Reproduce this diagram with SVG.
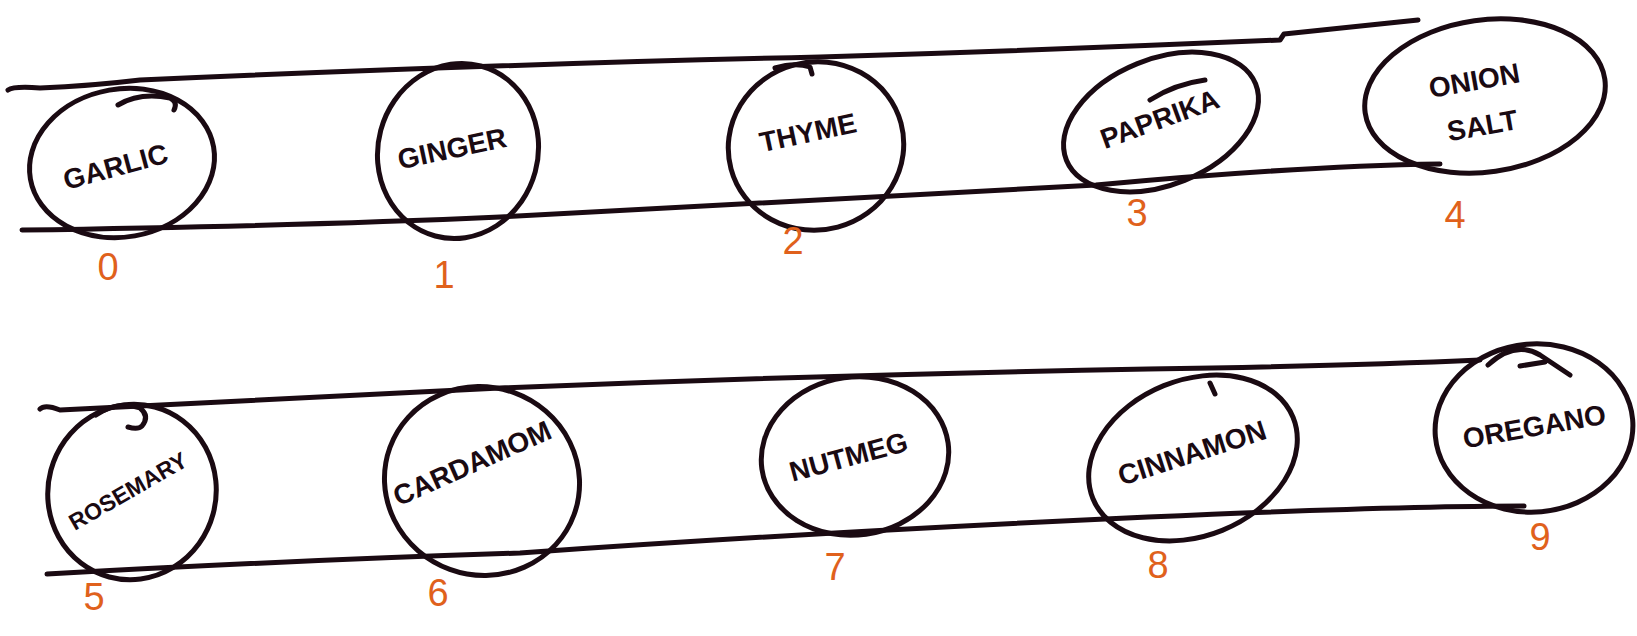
<svg xmlns="http://www.w3.org/2000/svg" width="1637" height="636" viewBox="0 0 1637 636">
<style>
.ln{fill:none;stroke:#1a0a12;stroke-width:5;stroke-linecap:round;stroke-linejoin:round}
.nd{fill:none;stroke:#1a0a12;stroke-width:5}
.lb{font-family:"Liberation Sans",Arial,sans-serif;font-weight:bold;font-size:28px;fill:#1a0a12;text-anchor:middle}
.sm{font-size:23px}
.num{font-family:"Liberation Sans",Arial,sans-serif;font-size:38px;fill:#e0611c;text-anchor:middle}
</style>
<rect width="1637" height="636" fill="#ffffff"/>
<g id="connectors">
<path class="ln" d="M8,90 Q14,86 40,88 Q90,86 140,80 Q500,64 820,57 Q1050,50 1280,40 L1284,34 Q1360,26 1418,20"/>
<path class="ln" d="M22,230 Q300,226 500,217 Q800,200 1096,185 Q1300,166 1440,164"/>
<path class="ln" d="M40,409 Q45,404 60,410 Q300,398 500,388 Q820,375 1148,369 Q1350,366 1480,360"/>
<path class="ln" d="M47,574 Q300,560 520,553 Q800,533 1148,517 Q1400,506 1524,506"/>
</g>
<g id="n0"><ellipse class="nd" cx="122" cy="163" rx="93" ry="74" transform="rotate(-10 122 163)"/><path class="ln" d="M118,105 Q140,92 170,98 Q178,102 174,110"/><text class="lb" x="118" y="176" transform="rotate(-15 118 176)">GARLIC</text><text class="num" x="108" y="280">0</text></g>
<g id="n1"><ellipse class="nd" cx="458" cy="151" rx="80" ry="88" transform="rotate(15 458 151)"/><text class="lb" x="454" y="158" transform="rotate(-12 454 158)">GINGER</text><text class="num" x="444" y="288">1</text></g>
<g id="n2"><ellipse class="nd" cx="816" cy="146" rx="88" ry="84" transform="rotate(-15 816 146)"/><path class="ln" d="M775,68 Q795,62 810,67 L812,74"/><text class="lb" x="810" y="142" transform="rotate(-12 810 142)">THYME</text><text class="num" x="793" y="254">2</text></g>
<g id="n3"><ellipse class="nd" cx="1161" cy="122" rx="102" ry="63" transform="rotate(-22 1161 122)"/><path class="ln" d="M1150,100 Q1175,84 1205,80"/><text class="lb" x="1163" y="128" transform="rotate(-20 1163 128)">PAPRIKA</text><text class="num" x="1137" y="226">3</text></g>
<g id="n4"><ellipse class="nd" cx="1485" cy="96" rx="121" ry="76" transform="rotate(-8 1485 96)"/><text class="lb" x="1476" y="90" transform="rotate(-10 1476 90)">ONION</text><text class="lb" x="1484" y="135" transform="rotate(-10 1484 135)">SALT</text><text class="num" x="1455" y="228">4</text></g>
<g id="n5"><ellipse class="nd" cx="132" cy="492" rx="84" ry="88" transform="rotate(15 132 492)"/><path class="ln" d="M96,415 Q118,400 140,408 Q150,416 142,426 Q138,430 128,427"/><text class="lb sm" x="132" y="498" transform="rotate(-30 132 498)">ROSEMARY</text><text class="num" x="94" y="610">5</text></g>
<g id="n6"><ellipse class="nd" cx="482" cy="481" rx="98" ry="94" transform="rotate(20 482 481)"/><text class="lb" x="476" y="472" transform="rotate(-24 476 472)">CARDAMOM</text><text class="num" x="438" y="606">6</text></g>
<g id="n7"><ellipse class="nd" cx="855" cy="456" rx="94" ry="79" transform="rotate(-8 855 456)"/><text class="lb" x="851" y="466" transform="rotate(-15 851 466)">NUTMEG</text><text class="num" x="835" y="580">7</text></g>
<g id="n8"><ellipse class="nd" cx="1193" cy="458" rx="108" ry="78" transform="rotate(-22 1193 458)"/><path class="ln" d="M1210,383 L1215,394"/><text class="lb" x="1195" y="462" transform="rotate(-18 1195 462)">CINNAMON</text><text class="num" x="1158" y="578">8</text></g>
<g id="n9"><ellipse class="nd" cx="1534" cy="428" rx="99" ry="84" transform="rotate(-5 1534 428)"/><path class="ln" d="M1488,365 Q1515,340 1540,355 Q1555,365 1570,375 M1520,366 L1545,362"/><text class="lb" x="1536" y="436" transform="rotate(-10 1536 436)">OREGANO</text><text class="num" x="1540" y="550">9</text></g>
</svg>
